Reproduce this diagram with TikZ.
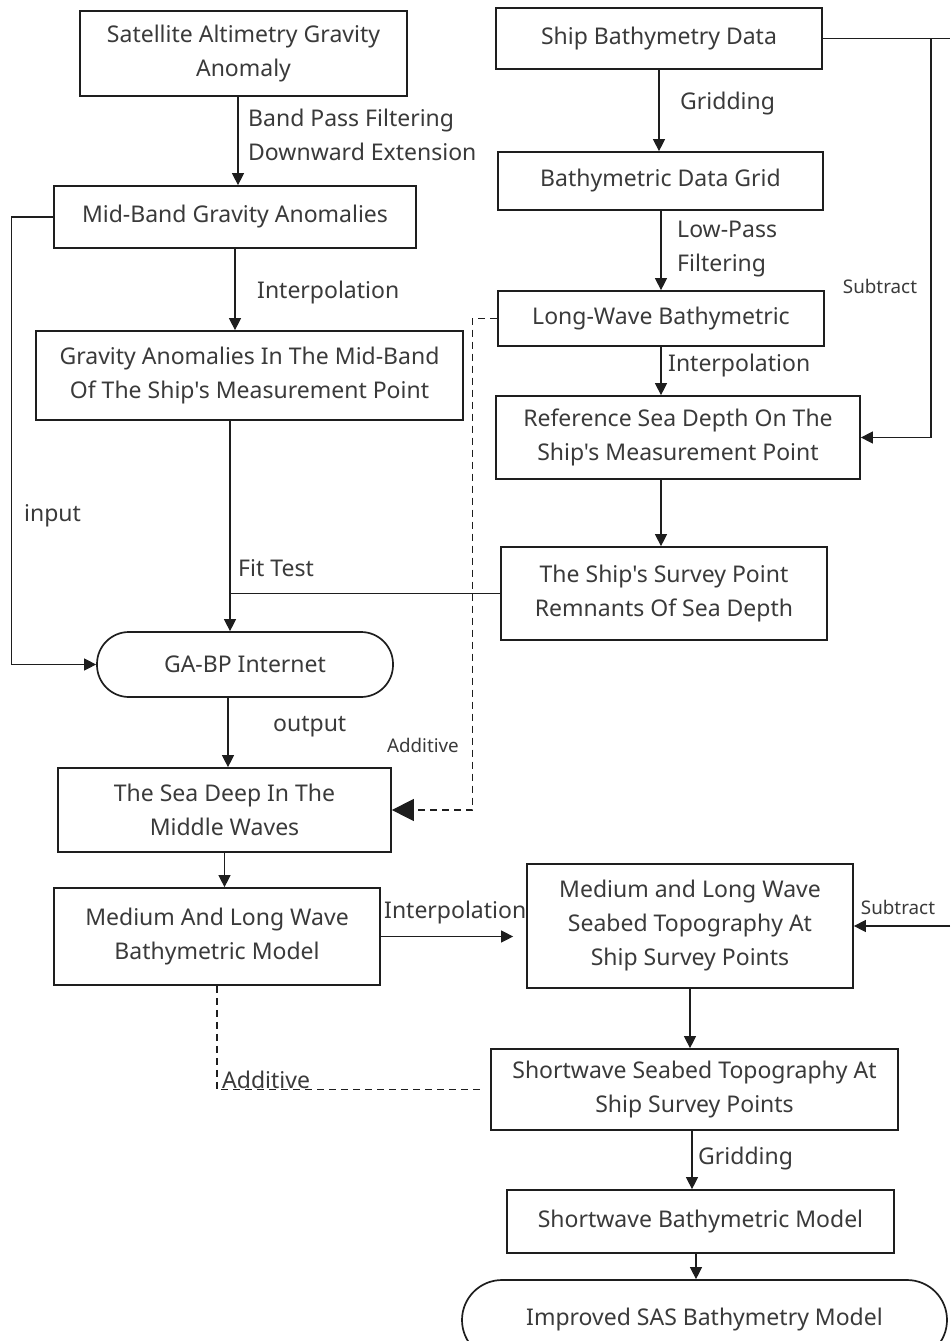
\documentclass[tikz,border=0pt]{standalone}
\usepackage{fontspec}
\setmainfont{Noto Sans}[Ligatures=TeXOff]
\usetikzlibrary{arrows.meta}
\definecolor{txt}{HTML}{3A3A3A}
\definecolor{ln}{HTML}{1E1E1E}
\newcommand{\mainf}{\fontsize{23bp}{34bp}\selectfont}
\newcommand{\smallf}{\fontsize{18.8bp}{24bp}\selectfont}
\begin{document}
\begin{tikzpicture}[x=1bp,y=-1bp,
  every node/.style={text=txt},
  box/.style={draw=ln, line width=1.7bp, inner sep=0pt, align=center, font=\mainf},
  arr/.style={draw=ln, line width=1.1bp, -{Triangle[length=12bp,width=12bp]}},
  bigarr/.style={draw=ln, line width=1.1bp, dash pattern=on 7bp off 5bp, -{Triangle[length=22bp,width=22bp]}},
  con/.style={draw=ln, line width=1.1bp},
  dsh/.style={draw=ln, line width=1.1bp, dash pattern=on 7bp off 5bp},
  lab/.style={font=\mainf, inner sep=0pt, align=left},
  slab/.style={font=\smallf, inner sep=0pt}]
\useasboundingbox (0,0) rectangle (950,1341);
\clip (0,0) rectangle (950,1341);
\fill[white] (0,0) rectangle (950,1341);

% boxes
\node[box, minimum width=327bp, minimum height=85bp] (A) at (243.5,53.5) {Satellite Altimetry Gravity\\Anomaly};
\node[box, minimum width=326bp, minimum height=61bp] (B) at (659,38.5) {Ship Bathymetry Data};
\node[box, minimum width=362bp, minimum height=62bp] (C) at (235,217) {Mid-Band Gravity Anomalies};
\node[box, minimum width=325bp, minimum height=58bp] (D) at (660.5,181) {Bathymetric Data Grid};
\node[box, minimum width=326bp, minimum height=55bp] (E) at (661,318.5) {Long-Wave Bathymetric};
\node[box, minimum width=364bp, minimum height=83bp] (F) at (678,437.5) {Reference Sea Depth On The\\Ship's Measurement Point};
\node[box, minimum width=326bp, minimum height=93bp] (G) at (664,593.5) {The Ship's Survey Point\\Remnants Of Sea Depth};
\node[box, minimum width=427bp, minimum height=89bp] (H) at (249.5,375.5) {Gravity Anomalies In The Mid-Band\\Of The Ship's Measurement Point};
\node[box, rounded corners=32bp, minimum width=296bp, minimum height=65bp] (GA) at (245,664.5) {GA-BP Internet};
\node[box, minimum width=333bp, minimum height=84bp] (SD) at (224.5,810) {The Sea Deep In The\\Middle Waves};
\node[box, minimum width=326bp, minimum height=97bp] (I) at (217,936.5) {Medium And Long Wave\\Bathymetric Model};
\node[box, minimum width=326bp, minimum height=124bp] (J) at (690,926) {Medium and Long Wave\\Seabed Topography At\\Ship Survey Points};
\node[box, minimum width=407bp, minimum height=81bp] (K) at (694.5,1089.5) {Shortwave Seabed Topography At\\Ship Survey Points};
\node[box, minimum width=387bp, minimum height=63bp] (L) at (700.5,1221.5) {Shortwave Bathymetric Model};
\node[box, rounded corners=40bp, minimum width=485bp, minimum height=80bp] (M) at (704.5,1320) {Improved SAS Bathymetry Model};

% helper coordinates
\coordinate (fit) at (230,591);
\coordinate (sr) at (931,0);
\coordinate (edgeT) at (950,38.5);
\coordinate (edgeJ) at (950,926);

% left column
\draw[arr] ([xshift=-5.5bp]A.south) -- ([xshift=-5.5bp]A.south |- C.north);
\node[lab, anchor=west] at (248,135) {Band Pass Filtering\\Downward Extension};
\draw[arr] (C.south) -- (C.south |- H.north);
\node[lab, anchor=west] at (257,293) {Interpolation};
\draw[arr] (H.south -| fit) -- (GA.north -| fit);
\draw[con] (G.west) -- (G.west -| fit);
\node[lab, anchor=west] at (238,568) {Fit Test};
\draw[arr] (C.west) -- ++(-42,0) |- (GA.west);
\node[lab, anchor=west] at (24,516) {input};
\draw[arr] ([xshift=-17bp]GA.south) -- ([xshift=-17bp]GA.south |- SD.north);
\node[lab, anchor=west] at (273,727) {output};
\draw[bigarr] (E.west) -- ++(-25,0) |- (SD.east);
\node[slab, anchor=east] at (459,745) {Additive};
\draw[arr] (SD.south) -- (SD.south |- I.north);
\draw[arr, shorten >=13bp] (I.east) -- (I.east -| J.west);
\node[lab, anchor=west] at (384,913) {Interpolation};
\draw[dsh] (I.south) |- ([xshift=-10bp]K.west);
\node[lab, anchor=west] at (222,1080) {Additive};

% right column
\draw[arr] (B.south) -- (B.south |- D.north);
\node[lab, anchor=west] at (680,104) {Gridding};
\draw[arr] ([xshift=0.5bp]D.south) -- ([xshift=0.5bp]D.south |- E.north);
\node[lab, anchor=west] at (677,249) {Low-Pass\\Filtering};
\draw[arr] (E.south) -- (E.south |- F.north);
\node[lab, anchor=west] at (668,366) {Interpolation};
\draw[arr] ([xshift=-17bp]F.south) -- ([xshift=-17bp]F.south |- G.north);
\draw[con] (B.east) -- (edgeT);
\draw[arr] (B.east -| sr) |- (F.east);
\node[slab] at (880,286) {Subtract};
\draw[arr] (edgeJ) -- (J.east);
\node[slab] at (898,907) {Subtract};
\draw[arr] (J.south) -- (J.south |- K.north);
\draw[arr] ([xshift=-2.5bp]K.south) -- ([xshift=-2.5bp]K.south |- L.north);
\node[lab, anchor=west] at (698,1159) {Gridding};
\draw[arr] ([xshift=-4.5bp]L.south) -- ([xshift=-4.5bp]L.south |- M.north);
\end{tikzpicture}
\end{document}
